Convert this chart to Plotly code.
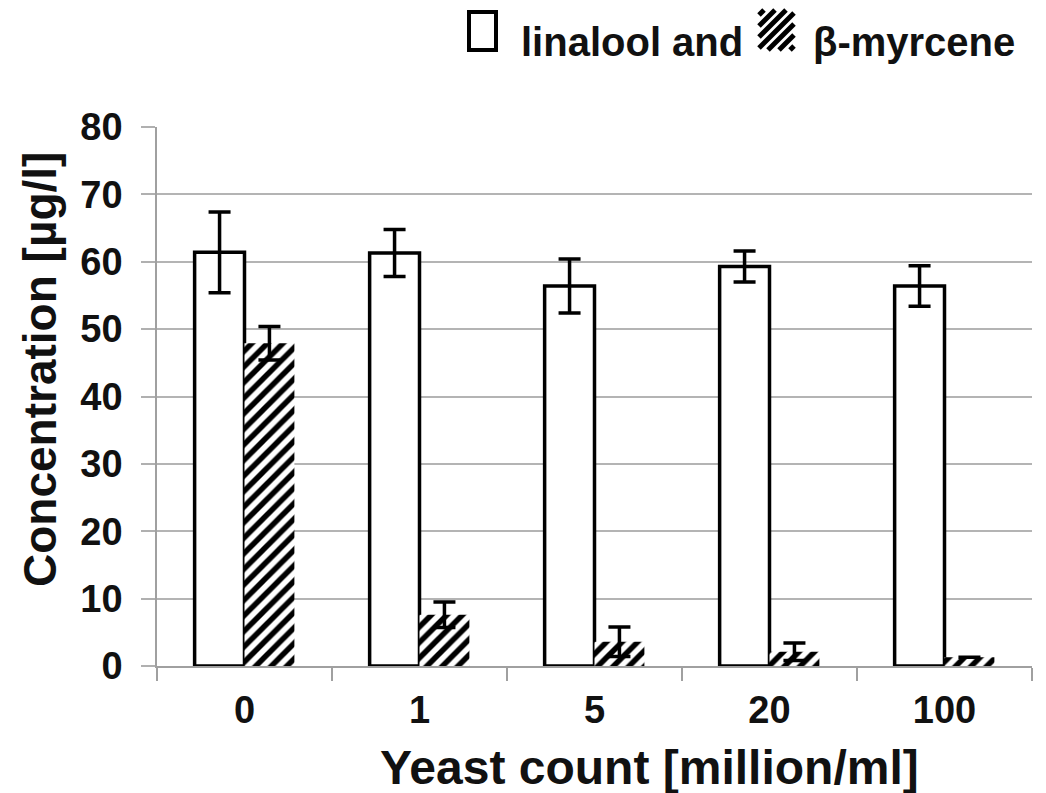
import plotly.graph_objects as go

categories = ["0", "1", "5", "20", "100"]
linalool = [61.4, 61.3, 56.4, 59.3, 56.4]
linalool_err = [6.0, 3.5, 4.0, 2.3, 3.0]
myrcene = [47.9, 7.6, 3.6, 2.1, 1.3]
myrcene_err = [2.5, 1.9, 2.2, 1.3, None]
y_ticks = [0, 10, 20, 30, 40, 50, 60, 70, 80]

FONT = "Liberation Sans"
OFF = 8  # page body margin offset
FIG_W, FIG_H = 1046 - OFF, 793 - OFF
L, T, W_PLOT, H_PLOT = 157 - OFF, 127 - OFF, 875, 539


def px_x(p):
    return (p - OFF - L) / W_PLOT


def px_y(p):
    return (T + H_PLOT - (p - OFF)) / H_PLOT


fig = go.Figure()
fig.add_trace(go.Bar(
    x=categories, y=linalool, name="linalool and", showlegend=False,
    marker=dict(color="white", line=dict(color="black", width=3.5)),
    error_y=dict(type="data", array=linalool_err, color="black", thickness=3.5, width=11),
))
fig.add_trace(go.Bar(
    x=categories, y=myrcene, name="β-myrcene", showlegend=False,
    marker=dict(color="white", line=dict(color="white", width=0),
                pattern=dict(shape="/", fgcolor="black", bgcolor="white", fgopacity=1,
                             size=11, solidity=0.5)),
    error_y=dict(type="data", array=myrcene_err, color="black", thickness=3.5, width=11),
))

shapes = []
# legend box for linalool
shapes.append(dict(type="rect", xref="paper", yref="paper",
                   x0=px_x(469), x1=px_x(496), y0=px_y(50), y1=px_y(12),
                   line=dict(color="black", width=4), fillcolor="white"))
# hatched legend icon for myrcene
bx0, bx1, by0, by1 = 759, 794, 10, 50
Wb, Hb = bx1 - bx0, by1 - by0
for c in range(-Wb + 4, Hb, 11):
    u0 = max(0, -c)
    u1 = min(Wb, Hb - c)
    if u1 <= u0:
        continue
    x0p, y0p = bx0 + u0, by1 - (u0 + c)
    x1p, y1p = bx0 + u1, by1 - (u1 + c)
    shapes.append(dict(type="line", xref="paper", yref="paper",
                       x0=px_x(x0p), y0=px_y(y0p), x1=px_x(x1p), y1=px_y(y1p),
                       line=dict(color="black", width=5)))

fig.update_layout(
    width=FIG_W, height=FIG_H,
    margin=dict(l=L, r=FIG_W - L - W_PLOT, t=T, b=FIG_H - T - H_PLOT, autoexpand=False),
    paper_bgcolor="white", plot_bgcolor="white",
    barmode="group", bargap=0.43, bargroupgap=0,
    font=dict(family=FONT, color="black", weight="bold"),
    showlegend=False,
    shapes=shapes,
    xaxis=dict(
        type="category", tickson="boundaries", ticks="outside", ticklen=13,
        tickcolor="#a0a0a0", tickwidth=1.5, showline=True, linecolor="#a0a0a0", linewidth=1.5,
        showgrid=False, automargin=False, ticklabelstandoff=10,
        tickfont=dict(family=FONT, size=38, weight="bold", color="#111"),
    ),
    yaxis=dict(
        range=[0, 80], tickvals=y_ticks, ticks="outside", ticklen=14, tickcolor="#b0b0b0",
        tickwidth=1.5, showline=True, linecolor="#a0a0a0", linewidth=1.5,
        showgrid=True, gridcolor="#b4b4b4", gridwidth=1.5, zeroline=False, automargin=False,
        tickfont=dict(family=FONT, size=38, weight="bold", color="#111"),
        ticklabelstandoff=11,
    ),
    annotations=[
        dict(text="Yeast count [million/ml]", xref="paper", yref="paper",
             x=px_x(649), y=px_y(767), xanchor="center", yanchor="middle",
             showarrow=False, font=dict(family=FONT, size=48, weight="bold", color="#111")),
        dict(text="Concentration [µg/l]", xref="paper", yref="paper", textangle=-90,
             x=px_x(40), y=px_y(370), xanchor="center", yanchor="middle",
             showarrow=False, font=dict(family=FONT, size=46, weight="bold", color="#111")),
        dict(text="linalool and", xref="paper", yref="paper",
             x=px_x(519), y=px_y(42), xanchor="left", yanchor="middle",
             showarrow=False, font=dict(family=FONT, size=40, weight="bold", color="#111")),
        dict(text="β-myrcene", xref="paper", yref="paper",
             x=px_x(811), y=px_y(42), xanchor="left", yanchor="middle",
             showarrow=False, font=dict(family=FONT, size=40, weight="bold", color="#111")),
    ],
)

fig.write_html("out.html")
